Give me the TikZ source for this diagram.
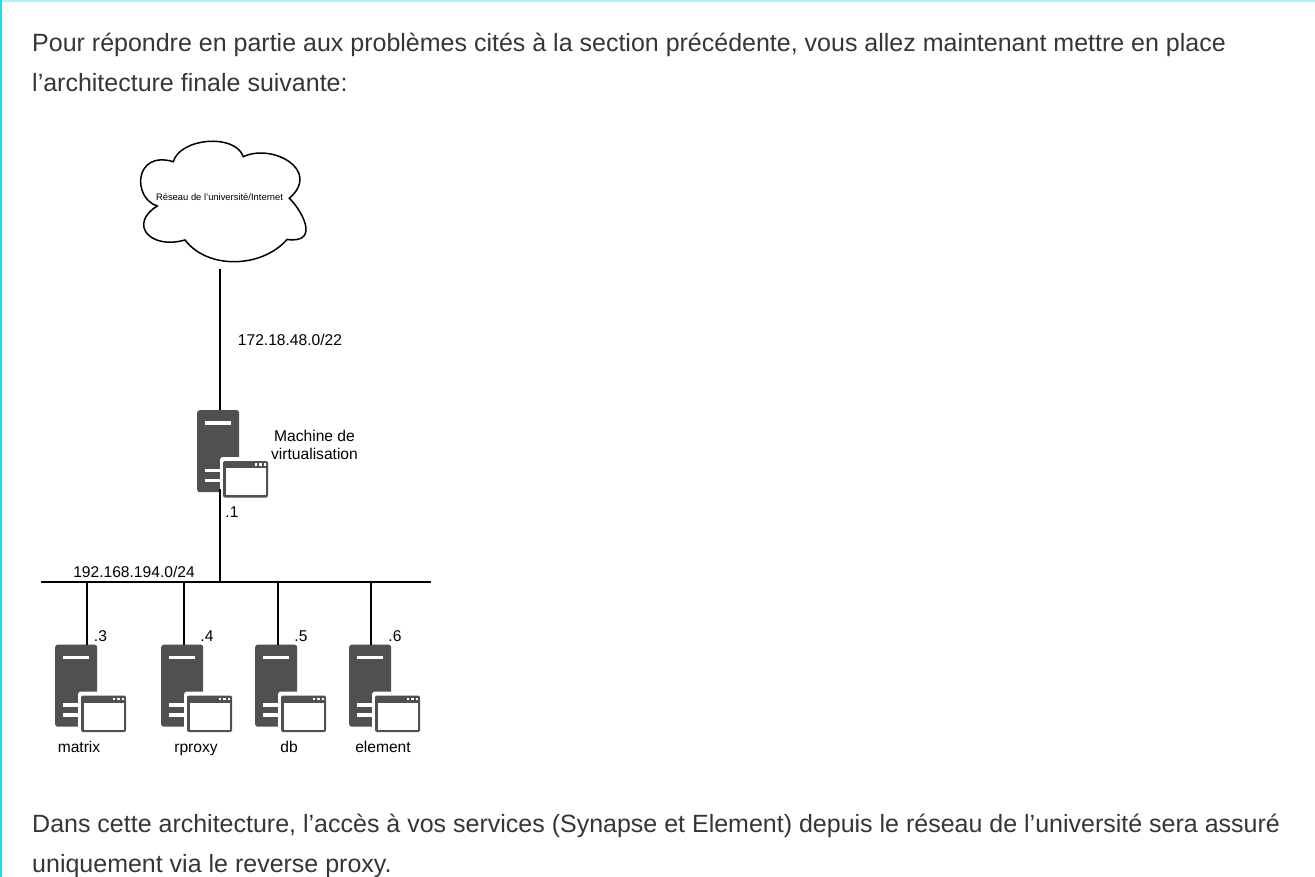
\documentclass[tikz,border=0pt]{standalone}
\usepackage{fontspec}
\setmainfont{Liberation Sans}

\definecolor{srvgray}{HTML}{505050}
\definecolor{pagetext}{HTML}{363636}
\definecolor{edgeteal}{HTML}{3BCFE6}
\definecolor{edgelight}{HTML}{B5F0FA}

\tikzstyle{para} = [anchor=base west,inner sep=0pt,text=pagetext,font=\fontsize{25}{25}\selectfont]
\tikzstyle{lbl} = [inner sep=0pt,align=center,font=\fontsize{15.6}{18}\selectfont]
\tikzstyle{hostname} = [lbl,anchor=base]
\tikzstyle{wire} = [black,line width=1.6pt]
\tikzstyle{srvbody} = [anchor=north west,fill=srvgray,rounded corners=2.5pt,inner sep=0pt,minimum width=42pt,minimum height=82pt]

\tikzset{
  pics/server/.style={
    code={
      \node (-body) [srvbody] at (0,0) {};
      \fill [white] (8,11) rectangle (33.5,14.5);
      \fill [white] (8,58.5) rectangle (24,62);
      \fill [white] (8,68.5) rectangle (24,72);
      \fill [white,rounded corners=3pt] (23,47) rectangle (73,90);
      \fill [srvgray,rounded corners=2pt] (26,51) rectangle (71,87.5);
      \fill [white] (29,58) rectangle (69,85);
      \foreach \dotx in {57.5,62,66.5} \fill [white] (\dotx,53.2) rectangle +(2.5,2.5);
    }
  }
}

\begin{document}
\begin{tikzpicture}[x=1pt,y=-1pt]
\useasboundingbox (0,0) rectangle (1315,877);
\fill [white] (0,0) rectangle (1315,877);
\fill [edgelight] (0,0) rectangle (1315,2);
\fill [edgeteal] (0,0) rectangle (2,877);

\node (intro1) [para] at (32,52) {Pour répondre en partie aux problèmes cités à la section précédente, vous allez maintenant mettre en place};
\node (intro2) [para] at (32,92) {l’architecture finale suivante:};
\node (outro1) [para] at (32,832) {Dans cette architecture, l’accès à vos services (Synapse et Element) depuis le réseau de l’université sera assuré};
\node (outro2) [para] at (32,872) {uniquement via le reverse proxy.};

% cloud
\draw [black,line width=1.5pt,fill=white] (173.3,161.7) .. controls (180,138) and (235,133) .. (243.3,156.7)
  .. controls (272,143) and (322,170) .. (289.3,198.3)
  .. controls (300,208) and (322,244) .. (287,239.5)
  .. controls (262,268) and (208,270) .. (185,240)
  .. controls (150,250) and (128,224) .. (157.3,206)
  .. controls (132,198) and (134,150) .. (173.3,161.7) -- cycle;
\node (cloud) [inner sep=0pt,font=\fontsize{9.4}{9.4}\selectfont] at (219.5,197.5) {Réseau de l'université/Internet};
\coordinate (uplink) at (220,269);

% servers
\pic (virt) at (197,410) {server};
\pic (matrix) at (55,644.5) {server};
\pic (rproxy) at (161,644.5) {server};
\pic (db) at (255,644.5) {server};
\pic (element) at (349,644.5) {server};

% bus
\coordinate (busw) at (41,582);
\coordinate (buse) at (431,582);
\coordinate (tapvirt) at (220,582);
\coordinate (tapmatrix) at (87,582);
\coordinate (taprproxy) at (184,582);
\coordinate (tapdb) at (278,582);
\coordinate (tapelement) at (371,582);

\draw [wire] (busw) -- (buse);
\draw [wire] (uplink) -- (uplink |- virt-body.north);
\draw [wire] (tapvirt) -- ([yshift=3pt]tapvirt |- virt-body.south);
\draw [wire] (tapmatrix) -- (tapmatrix |- matrix-body.north);
\draw [wire] (taprproxy) -- (taprproxy |- rproxy-body.north);
\draw [wire] (tapdb) -- (tapdb |- db-body.north);
\draw [wire] (tapelement) -- (tapelement |- element-body.north);

\node (wan) [lbl] at (290,339.5) {172.18.48.0/22};
\node (virtname) [lbl] at (314.5,444.5) {Machine de\\virtualisation};
\node (virtip) [lbl] at (232,512) {.1};
\node (lan) [lbl] at (134,572) {192.168.194.0/24};
\node (matrixip) [lbl] at (100.5,636.5) {.3};
\node (rproxyip) [lbl] at (207,636.5) {.4};
\node (dbip) [lbl] at (301,636.5) {.5};
\node (elementip) [lbl] at (395,636.5) {.6};
\node (matrixname) [hostname] at (79,752) {matrix};
\node (rproxyname) [hostname] at (196,752) {rproxy};
\node (dbname) [hostname] at (289,752) {db};
\node (elementname) [hostname] at (383,752) {element};

\end{tikzpicture}
\end{document}
